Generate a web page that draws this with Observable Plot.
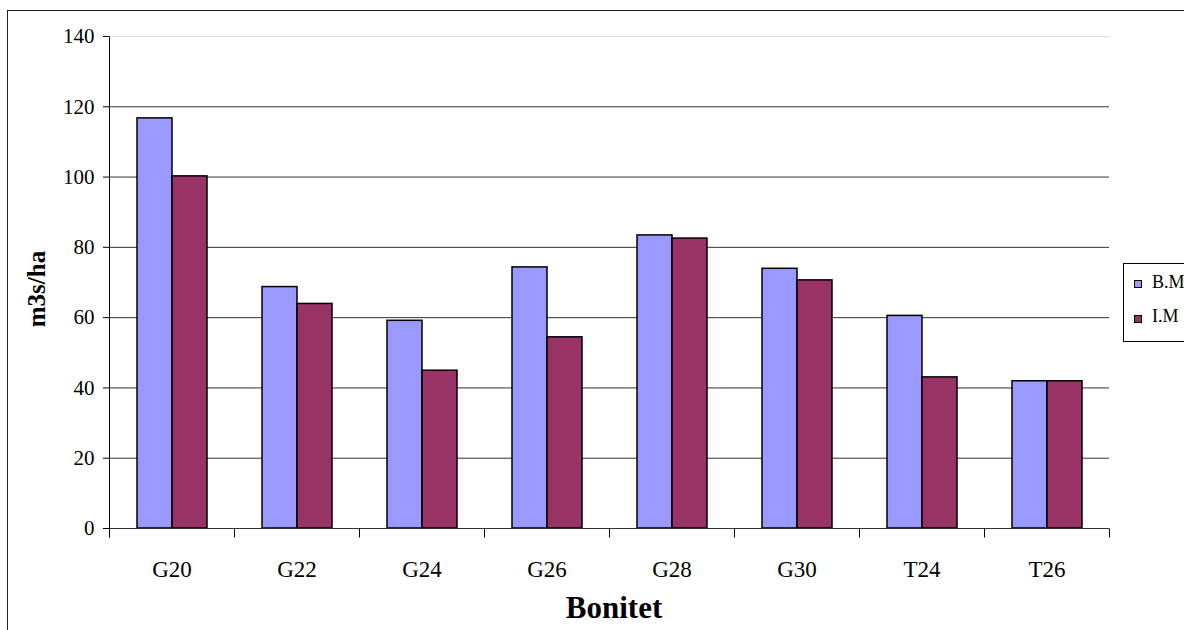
<!DOCTYPE html>
<html>
<head>
<meta charset="utf-8">
<script src="https://cdn.jsdelivr.net/npm/d3@7"></script>
<script src="https://cdn.jsdelivr.net/npm/@observablehq/plot@0.6"></script>
<style>
html,body{margin:0;padding:0;background:#fff;overflow:hidden}
#wrap{position:relative;width:1184px;height:630px;overflow:hidden;font-family:"Liberation Serif","Times New Roman",serif;background:#fff}
#frame{position:absolute;left:7px;top:10px;width:1400px;height:800px;border:1px solid #222;pointer-events:none}
#chart{position:absolute;left:0;top:0}
#legend{position:absolute;left:1123px;top:263px;width:120px;height:77px;border:1px solid #000;background:#fff;font-size:18px;color:#000}
#legend .sw{position:absolute;left:10px;width:6px;height:6px;border:1px solid #000}
#legend .lb{position:absolute;left:28px;line-height:18px;white-space:nowrap}
</style>
</head>
<body>
<div id="wrap">
  <div id="frame"></div>
  <div id="chart"></div>
  <div id="legend"></div>
</div>
<script>
const categories = ["G20","G22","G24","G26","G28","G30","T24","T26"];
const seriesNames = ["B.M","I.M"];
const bmValues = [116.7, 68.7, 59.1, 74.3, 83.4, 73.9, 60.5, 41.9];
const imValues = [100.2, 63.9, 44.9, 54.4, 82.5, 70.6, 43.0, 41.9];
const yTicks = [0, 20, 40, 60, 80, 100, 120, 140];
const seriesColors = ["#9999FF", "#993366"];
const xTitle = "Bonitet";
const yTitle = "m3s/ha";

const data = categories.flatMap((cat, i) => [
  {cat, series: seriesNames[0], value: bmValues[i]},
  {cat, series: seriesNames[1], value: imValues[i]}
]);

const serif = "Liberation Serif";

const chart = Plot.plot({
  width: 1184,
  height: 630,
  marginLeft: 108,
  marginRight: 74,
  marginTop: 36,
  marginBottom: 102,
  style: {fontFamily: serif, fontSize: "21px", color: "#000", background: "transparent", overflow: "visible"},
  fx: {domain: categories, padding: 0, label: null},
  x: {domain: seriesNames, paddingInner: 0, paddingOuter: 0.75, axis: null},
  y: {domain: [0, 140], label: null},
  color: {domain: seriesNames, range: seriesColors},
  marks: [
    Plot.ruleY(yTicks.filter(d => d > 0 && d < 140), {stroke: "#333", strokeWidth: 1}),
    Plot.ruleY(yTicks.filter(d => d === 140), {stroke: "#dcdcdc", strokeWidth: 1}),
    Plot.barY(data, {fx: "cat", x: "series", y: "value", fill: "series", stroke: "#000", strokeWidth: 1.5, inset: 0}),
    Plot.ruleY([0], {stroke: "#333", strokeWidth: 1}),
    Plot.axisY({ticks: yTicks, tickSize: 6, tickPadding: 9, label: null, fontSize: 21, fontFamily: serif}),
    Plot.axisFx({anchor: "bottom", label: null, tickSize: 0, tickPadding: 32, fontSize: 23, fontFamily: serif})
  ]
});

document.getElementById("chart").appendChild(chart);

const svg = d3.select(chart);
const fx = chart.scale("fx");
const ys = chart.scale("y");
const y0 = ys.apply(0);
const yTop = ys.apply(140);
const left = fx.apply(categories[0]);
const right = fx.apply(categories[categories.length - 1]) + fx.bandwidth;
const tickLen = 9;

const g = svg.append("g").attr("stroke", "#000").attr("stroke-width", 1).attr("transform", "translate(0.5,0.5)");
g.append("line").attr("x1", left).attr("x2", left).attr("y1", yTop).attr("y2", y0 + tickLen);
const bounds = categories.map(c => fx.apply(c)).concat([right]);
bounds.forEach(bx => {
  g.append("line").attr("x1", bx).attr("x2", bx).attr("y1", y0).attr("y2", y0 + tickLen);
});

svg.append("text")
  .attr("x", (left + right) / 2 + 5)
  .attr("y", 618)
  .attr("text-anchor", "middle")
  .attr("font-weight", "bold")
  .attr("font-size", 31)
  .attr("fill", "#000")
  .text(xTitle);

svg.append("text")
  .attr("transform", `translate(45,${(yTop + y0) / 2 + 7}) rotate(-90)`)
  .attr("text-anchor", "middle")
  .attr("font-weight", "bold")
  .attr("font-size", 25)
  .attr("fill", "#000")
  .text(yTitle);

svg.selectAll("text").style("font-family", "'Liberation Serif', 'Times New Roman', serif");

const legend = document.getElementById("legend");
seriesNames.forEach((name, i) => {
  const sw = document.createElement("div");
  sw.className = "sw";
  sw.style.top = (16 + i * 35) + "px";
  sw.style.background = seriesColors[i];
  legend.appendChild(sw);
  const lb = document.createElement("div");
  lb.className = "lb";
  lb.style.top = (9 + i * 34) + "px";
  lb.textContent = name;
  legend.appendChild(lb);
});
</script>
</body>
</html>
